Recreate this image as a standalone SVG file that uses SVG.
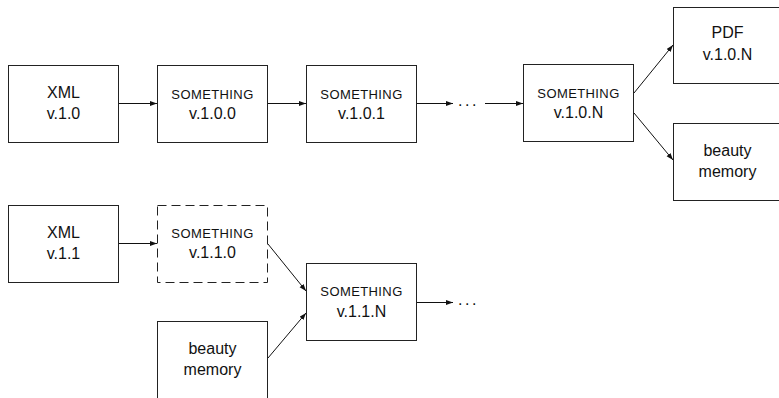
<svg xmlns="http://www.w3.org/2000/svg" width="779" height="398" viewBox="0 0 779 398">
<defs>
<marker id="arr" markerUnits="userSpaceOnUse" markerWidth="8" markerHeight="6" refX="7" refY="2.5" orient="auto">
<path d="M0,0 L7,2.5 L0,5 z" fill="#111"/>
</marker>
<style>
rect.box{fill:#fff;stroke:#222;stroke-width:1}
rect.dash{stroke-dasharray:9 5}
text{font-family:"Liberation Sans",Arial,Helvetica,sans-serif;fill:#111;text-anchor:middle}
.big{font-size:16px}
.small{font-size:13px;letter-spacing:0.4px}
.dots{font-size:16px;text-anchor:start;letter-spacing:2.5px}
line.c{stroke:#111;stroke-width:1;marker-end:url(#arr)}
</style>
</defs>
<rect width="779" height="398" fill="#fff"/>
<g id="connectors">
<line class="c" x1="118" y1="103.5" x2="157" y2="103.5"/>
<line class="c" x1="267" y1="103.5" x2="306" y2="103.5"/>
<line class="c" x1="417" y1="103.5" x2="453" y2="103.5"/>
<text class="dots" x="458" y="106">...</text>
<line class="c" x1="485" y1="103.5" x2="523" y2="103.5"/>
<line class="c" x1="634" y1="93" x2="673" y2="45"/>
<line class="c" x1="634" y1="113" x2="673" y2="160"/>
<line class="c" x1="118" y1="243.5" x2="157" y2="243.5"/>
<line class="c" x1="268" y1="244" x2="306" y2="291"/>
<line class="c" x1="268" y1="358" x2="306" y2="313"/>
<line class="c" x1="417" y1="302.5" x2="453" y2="302.5"/>
<text class="dots" x="458" y="305">...</text>
</g>
<g id="xml-v1-0">
<rect class="box" x="8.5" y="65.5" width="110" height="77"/>
<text class="big" x="63.5" y="98">XML</text>
<text class="big" x="63.5" y="119">v.1.0</text>
</g>
<g id="something-v1-0-0">
<rect class="box" x="157.5" y="65.5" width="110" height="77"/>
<text class="small" x="212.5" y="99">SOMETHING</text>
<text class="big" x="212.5" y="119">v.1.0.0</text>
</g>
<g id="something-v1-0-1">
<rect class="box" x="306.5" y="65.5" width="110" height="77"/>
<text class="small" x="361.5" y="99">SOMETHING</text>
<text class="big" x="361.5" y="119">v.1.0.1</text>
</g>
<g id="something-v1-0-N">
<rect class="box" x="523.5" y="64.5" width="110" height="77"/>
<text class="small" x="578.5" y="98">SOMETHING</text>
<text class="big" x="578.5" y="118">v.1.0.N</text>
</g>
<g id="pdf-v1-0-N">
<rect class="box" x="673.5" y="7.5" width="110" height="76"/>
<text class="big" x="727.5" y="38">PDF</text>
<text class="big" x="727.5" y="60">v.1.0.N</text>
</g>
<g id="beauty-memory-1">
<rect class="box" x="673.5" y="123.5" width="110" height="77"/>
<text class="big" x="727.5" y="156">beauty</text>
<text class="big" x="727.5" y="177">memory</text>
</g>
<g id="xml-v1-1">
<rect class="box" x="8.5" y="205.5" width="110" height="77"/>
<text class="big" x="63.5" y="238">XML</text>
<text class="big" x="63.5" y="259">v.1.1</text>
</g>
<g id="something-v1-1-0">
<rect class="box dash" x="157.5" y="205.5" width="110" height="77"/>
<text class="small" x="212.5" y="238">SOMETHING</text>
<text class="big" x="212.5" y="258">v.1.1.0</text>
</g>
<g id="something-v1-1-N">
<rect class="box" x="306.5" y="263.5" width="110" height="77"/>
<text class="small" x="361.5" y="296">SOMETHING</text>
<text class="big" x="361.5" y="317">v.1.1.N</text>
</g>
<g id="beauty-memory-2">
<rect class="box" x="157.5" y="321.5" width="110" height="80"/>
<text class="big" x="212.5" y="354">beauty</text>
<text class="big" x="212.5" y="375">memory</text>
</g>
</svg>
